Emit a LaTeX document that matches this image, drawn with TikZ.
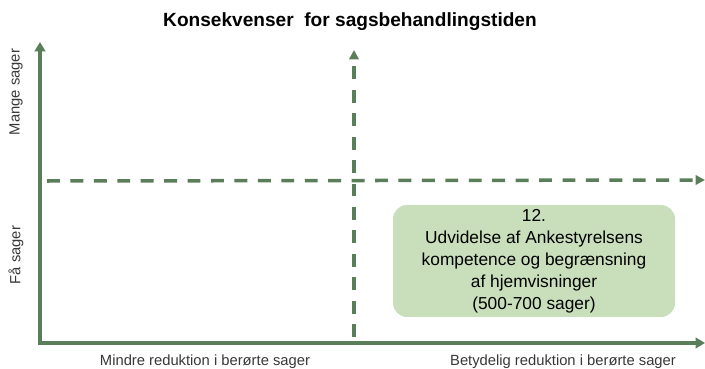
\documentclass[tikz,border=0pt]{standalone}
\usepackage{fontspec}
\setmainfont{Liberation Sans}
\usepackage{xcolor}
\usetikzlibrary{positioning, arrows.meta}
\definecolor{axisgreen}{HTML}{5A7D5A}
\definecolor{boxgreen}{HTML}{C9DFBC}

\begin{document}
\begin{tikzpicture}[
  x=0.03cm, y=0.03cm,
  font=\fontsize{12.6}{14}\selectfont,
  axis/.style={axisgreen, line width=3.2pt, -{Triangle[length=8pt, width=9pt]}},
  divider/.style={axisgreen, line width=3pt, dash pattern=on 11pt off 9pt, -{Triangle[length=8pt, width=8pt]}},
  caseBox/.style={rounded corners=12pt, fill=boxgreen, draw=none, minimum width=282*0.03cm, minimum height=112*0.03cm, align=center, font=\fontsize{14.8}{18.7}\selectfont},
  axislabel/.style={text=black!78}
]
  \useasboundingbox (0,0) rectangle (705,369);
  % akser
  \coordinate (origin) at (38,26);
  \coordinate (ytop) at (40,327);
  \coordinate (yfoot) at (40,24);
  \coordinate (xend) at (705,26);
  \draw[axis] (yfoot) -- (ytop);
  \draw[axis] (origin) -- (xend);
  % skillelinjer
  \coordinate (vlow) at (354,32);
  \coordinate (vtop) at (354,319);
  \coordinate (hleft) at (47,188);
  \coordinate (hright) at (705,189);
  \draw[divider] (vlow) -- (vtop);
  \draw[divider] (hleft) -- (hright);
  % tekster
  \node[font=\fontsize{16.3}{18}\selectfont\bfseries] (title) at (350,347) {Konsekvenser\ \ for sagsbehandlingstiden};
  \node[axislabel, rotate=90] (many) at (16,277) {Mange sager};
  \node[axislabel, rotate=90] (few) at (16,114) {Få sager};
  \node[axislabel] (minor) at (205,7) {Mindre reduktion i berørte sager};
  \node[axislabel] (major) at (563,7) {Betydelig reduktion i berørte sager};
  \node[caseBox] (case12) at (534,108) {12.\\Udvidelse af Ankestyrelsens\\kompetence og begrænsning\\af hjemvisninger\\(500-700 sager)};
\end{tikzpicture}
\end{document}
